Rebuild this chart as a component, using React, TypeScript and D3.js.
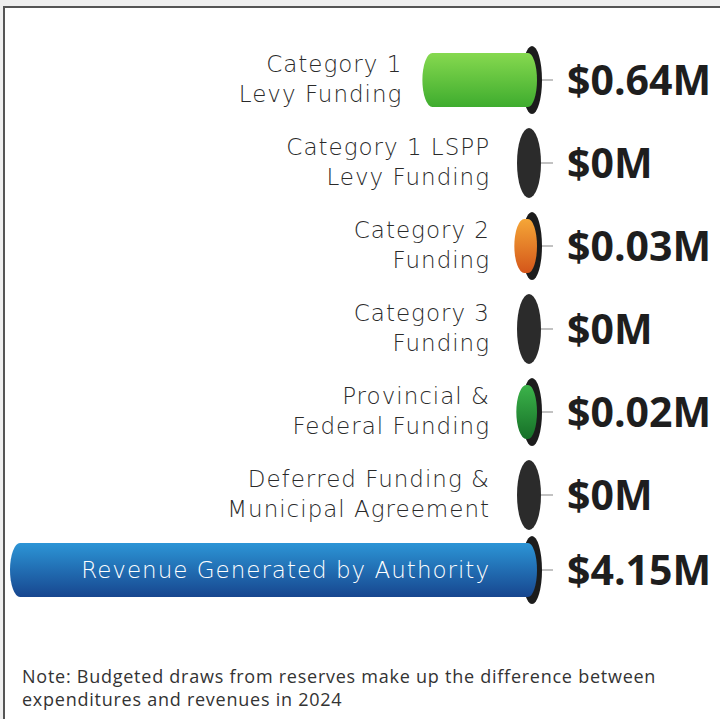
import React from "react";
import * as d3 from "d3";

const categories: string[][] = [
  ["Category 1", "Levy Funding"],
  ["Category 1 LSPP", "Levy Funding"],
  ["Category 2", "Funding"],
  ["Category 3", "Funding"],
  ["Provincial &", "Federal Funding"],
  ["Deferred Funding &", "Municipal Agreement"],
  ["Revenue Generated by Authority"],
];
const values: number[] = [0.64, 0, 0.03, 0, 0.02, 0, 4.15];
const valueLabels: string[] = ["$0.64M", "$0M", "$0.03M", "$0M", "$0.02M", "$0M", "$4.15M"];
const colorsTop: string[] = ["#86d94f", "#333", "#f5a637", "#333", "#3cb34a", "#333", "#2c95d6"];
const colorsBottom: string[] = ["#3eac2e", "#222", "#d4561a", "#222", "#167028", "#222", "#17468f"];
const rowCenters: number[] = [80, 163, 246, 329, 412, 495, 570];
const noteLines: string[] = [
  "Note: Budgeted draws from reserves make up the difference between",
  "expenditures and revenues in 2024",
];

export default function App() {
  const endX = 531;
  const len = d3.scalePow().exponent(0.88).domain([0, 4.15]).range([0, 511]);
  const labelFont = "'DejaVu Sans', sans-serif";
  return (
    <div style={{ position: "fixed", left: 0, top: 0, width: 720, height: 719, background: "#fff" }}>
      <svg width={720} height={719} style={{ display: "block" }}>
        <defs>
          {values.map((v, i) => (
            <linearGradient key={i} id={`g${i}`} x1="0" y1="0" x2="0" y2="1">
              <stop offset="0" stopColor={colorsTop[i]} />
              <stop offset="1" stopColor={colorsBottom[i]} />
            </linearGradient>
          ))}
        </defs>
        <rect x={0} y={0} width={720} height={6} fill="#efefef" />
        <rect x={0} y={0} width={3} height={719} fill="#efefef" />
        <line x1={3} y1={7} x2={720} y2={7} stroke="#555" strokeWidth={2} />
        <line x1={4} y1={6} x2={4} y2={719} stroke="#555" strokeWidth={2} />
        {values.map((v, i) => {
          const cy = rowCenters[i];
          const L = len(v);
          const big = i === 6;
          const ry = 34;
          const bodyH = big ? 27 : 27;
          const x0 = endX - L;
          const capRx = 10;
          const leftEdge = x0 - capRx;
          const labelX = Math.min(490, leftEdge - 20);
          const lines = categories[i];
          return (
            <g key={i}>
              <line x1={endX + 10} y1={cy} x2={endX + 22} y2={cy} stroke="#999" strokeWidth={1.2} />
              {v === 0 ? (
                <ellipse cx={endX - 2} cy={cy} rx={12} ry={35} fill="#2b2b2b" />
              ) : (
                <g>
                  <ellipse cx={endX + 1} cy={cy} rx={10} ry={ry} fill="#1c1c1c" />
                  <path
                    d={`M${x0},${cy - bodyH} L${endX - 3},${cy - bodyH} A${capRx - 1},${bodyH} 0 0 1 ${endX - 3},${cy + bodyH} L${x0},${cy + bodyH} A${capRx},${bodyH} 0 0 1 ${x0},${cy - bodyH} Z`}
                    fill={`url(#g${i})`}
                  />
                </g>
              )}
              {big ? (
                <text x={490} y={cy + 8} textAnchor="end" fill="#fff" fontFamily={labelFont} fontWeight={300} fontSize={23} letterSpacing={1}>
                  {lines[0]}
                </text>
              ) : (
                lines.map((t, j) => (
                  <text key={j} x={labelX} y={cy - 8 + j * 30} textAnchor="end" fill="#2a2a2a" fontFamily={labelFont} fontWeight={300} fontSize={23} letterSpacing={1}>
                    {t}
                  </text>
                ))
              )}
              <text x={567} y={cy + 15} fill="#1e1e1e" fontFamily="'Open Sans', sans-serif" fontWeight={700} fontSize={41}>
                {valueLabels[i]}
              </text>
            </g>
          );
        })}
        {noteLines.map((t, j) => (
          <text key={j} x={22} y={683 + j * 23} fill="#333" fontFamily="'Open Sans', sans-serif" fontSize={18} letterSpacing={0.75}>
            {t}
          </text>
        ))}
      </svg>
    </div>
  );
}
